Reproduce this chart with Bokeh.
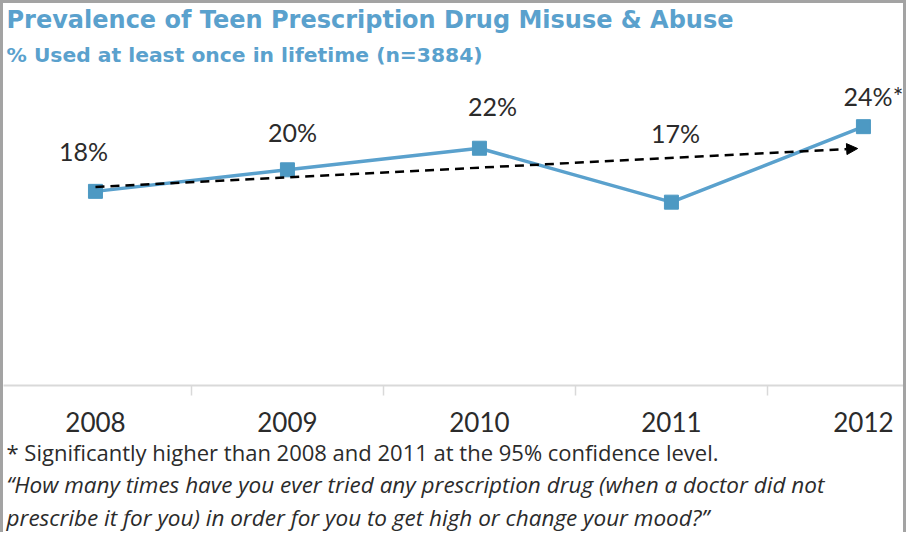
import numpy as np
from bokeh.plotting import figure
from bokeh.models import Range1d, FixedTicker, LinearAxis, Label, Title, Arrow, NormalHead, ColumnDataSource
from bokeh.core.properties import value
from bokeh.embed import file_html
from bokeh.resources import INLINE

# ---- data ----
years = ["2008", "2009", "2010", "2011", "2012"]
pct = [18, 20, 22, 17, 24]
point_labels = ["18%", "20%", "22%", "17%", "24%*"]
title_text = "Prevalence of Teen Prescription Drug Misuse & Abuse"
subtitle_text = "% Used at least once in lifetime (n=3884)"
note_text = "* Significantly higher than 2008 and 2011 at the 95% confidence level."
quote_line1 = "\u201cHow many times have you ever tried any prescription drug (when a doctor did not"
quote_line2 = "prescribe it for you) in order for you to get high or change your mood?\u201d"

# label placement (screen px), styling only
label_dx = [-12, 5, 13, 4, 10]
label_dy = [-40, -38, -42, -69, -31]

FONT = "Lato"
FONT2 = "Open Sans"
FONT_T = "DejaVu Sans"
BLUE = "#5aa1cd"
MARK = "#4d99c3"
TXT = "#2b2b2b"

idx = list(range(len(years)))

p = figure(width=906, height=532, output_backend="svg", toolbar_location=None,
           x_range=Range1d(-0.479, 4.24), y_range=Range1d(0, 35.42),
           min_border_left=0, min_border_right=0, min_border_top=0, min_border_bottom=150,
           x_axis_location=None, y_axis_location=None, title=None)
p.grid.visible = False
p.outline_line_color = None
p.background_fill_color = "white"
p.border_fill_color = "white"
p.styles = {"border-top": "3px solid #a3a3a3", "border-left": "3px solid #a3a3a3",
            "border-right": "3px solid #a3a3a3"}

# x axis
xa = LinearAxis(ticker=FixedTicker(ticks=idx, minor_ticks=[i + 0.5 for i in idx[:-1]]),
                major_label_overrides={i: y for i, y in zip(idx, years)})
xa.axis_line_color = "#d9d9d9"
xa.axis_line_width = 2
xa.major_tick_line_color = None
xa.major_tick_out = 0
xa.major_tick_in = 0
xa.minor_tick_line_color = "#d9d9d9"
xa.minor_tick_line_width = 1.5
xa.minor_tick_out = 10
xa.minor_tick_in = 0
xa.major_label_text_font = FONT
xa.major_label_text_font_size = "26px"
xa.major_label_text_color = TXT
xa.major_label_standoff = 16
p.add_layout(xa, "below")

# titles inside the top of the frame (screen units from frame bottom)
def add_label(txt, y, size, style, color):
    p.add_layout(Label(x=3, y=y, x_units="screen", y_units="screen", text=txt,
                       text_font=FONT_T, text_font_size=size, text_font_style=style,
                       text_color=color, text_baseline="alphabetic", text_align="left"))

add_label(title_text, 366.0, "24px", "bold", BLUE)
add_label(subtitle_text, 331.0, "20.3px", "bold", BLUE)

# footnotes below the axis
for txt, size, style in [(note_text, "22px", "normal"),
                         (quote_line1, "22.5px", "italic"),
                         (quote_line2, "22.5px", "italic")]:
    p.add_layout(Title(text=txt, align="left", offset=3, text_font=FONT2,
                       text_font_size=size, text_font_style=style, text_color=TXT,
                       standoff=0), "below")

# trend line (least squares on the series)
xs = np.array(idx, dtype=float)
ys = np.array(pct, dtype=float)
slope, icpt = np.polyfit(xs, ys, 1)
x_end = xs[-1] - 0.03
p.add_layout(Arrow(x_start=xs[0], y_start=icpt, x_end=x_end, y_end=icpt + slope * x_end,
                   line_color="black", line_width=2.5, line_dash="9 6",
                   end=NormalHead(size=11, fill_color="black", line_color="black")))

src = ColumnDataSource(dict(x=idx, y=pct, lab=point_labels, dx=label_dx, dy=label_dy))
p.line("x", "y", source=src, line_color=BLUE, line_width=3.5)
p.scatter("x", "y", source=src, marker="square", size=14, fill_color=MARK, line_color=MARK)
p.text("x", "y", text="lab", source=src, x_offset="dx", y_offset="dy",
       text_font=value(FONT), text_font_size="25px", text_color=TXT,
       text_align="center", text_baseline="middle")

open("out.html", "w").write(file_html(p, INLINE))
